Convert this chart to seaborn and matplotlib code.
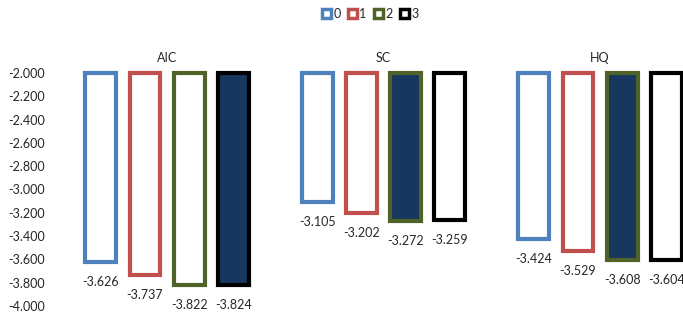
import pandas as pd
import numpy as np
import matplotlib
matplotlib.use("Agg")
import matplotlib.pyplot as plt
from matplotlib.patches import Patch
import seaborn as sns

### data
criteria = ["AIC", "SC", "HQ"]
lags = ["0", "1", "2", "3"]
aic = [-3.626, -3.737, -3.822, -3.824]
sc = [-3.105, -3.202, -3.272, -3.259]
hq = [-3.424, -3.529, -3.608, -3.604]
yticks = [-2.0, -2.2, -2.4, -2.6, -2.8, -3.0, -3.2, -3.4, -3.6, -3.8, -4.0]

base = -2.0
colors = ["#4F81BD", "#C0504D", "#4F6228", "#000000"]
navy = "#17375E"

rows = []
for crit, vals in zip(criteria, [aic, sc, hq]):
    for lag, v in zip(lags, vals):
        rows.append(dict(criterion=crit, lag=lag, value=v, height=v - base))
df = pd.DataFrame(rows)

sns.set_style("white")
plt.rcParams["font.family"] = ["Lato", "DejaVu Sans"]

fig = plt.figure(figsize=(6.83, 3.16), dpi=100)
ax = fig.add_axes([70 / 683, 10 / 316, 613 / 683, 233 / 316])

sns.barplot(
    data=df, x="criterion", y="height", hue="lag",
    order=criteria, hue_order=lags, palette=colors,
    width=0.815, gap=0.3, bottom=base, legend=False, ax=ax,
)

# restyle: white inside, coloured outline, lowest value per group filled navy
for color, cont, lag in zip(colors, ax.containers, lags):
    for bar, crit in zip(cont, criteria):
        sub = df[df.criterion == crit]
        v = sub[sub.lag == lag].value.iloc[0]
        face = navy if v == sub.value.min() else "white"
        bar.set_facecolor(face)
        bar.set_edgecolor(color)
        bar.set_linewidth(3)
        bar.set_clip_on(False)
        ax.annotate(f"{v:.3f}", (bar.get_x() + bar.get_width() / 2, v),
                    xytext=(0, -10), textcoords="offset points",
                    ha="center", va="top", fontsize=9)

for i, crit in enumerate(criteria):
    ax.annotate(crit, (i, base), xytext=(0, 11), textcoords="offset points",
                ha="center", va="center", fontsize=9, annotation_clip=False)

ax.set_ylim(-4.0, -2.0)
ax.set_xlim(-0.448, 2.383)
ax.set_yticks(yticks)
ax.set_yticklabels([f"{t:.3f}" for t in yticks], fontsize=9)
ax.tick_params(axis="y", length=0, pad=18)
ax.set_xticks([])
ax.set_xlabel("")
ax.set_ylabel("")
for s in ax.spines.values():
    s.set_visible(False)

handles = [Patch(facecolor="white", edgecolor=c, linewidth=2.5, label=l)
           for c, l in zip(colors, lags)]
fig.legend(handles=handles, loc="center", bbox_to_anchor=(0.542, 0.956),
           ncol=4, frameon=False, fontsize=9, handlelength=0.7,
           handleheight=0.7, handletextpad=0.2, columnspacing=0.6)

fig.savefig("out.png", dpi=100)
